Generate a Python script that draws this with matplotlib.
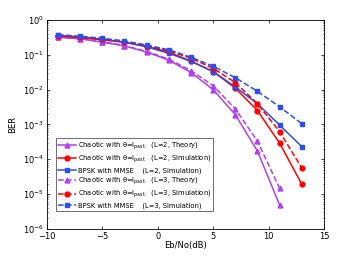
import matplotlib
matplotlib.use("Agg")
import matplotlib.pyplot as plt

snr = [-9, -7, -5, -3, -1, 1, 3, 5, 7, 9, 11, 13]

# L=2
chaos_theory_l2 = [0.32, 0.29, 0.23, 0.18, 0.12, 0.07, 0.031, 0.010, 0.0019, 1.7e-4, 4.8e-6]
chaos_sim_l2 = [0.34, 0.31, 0.27, 0.23, 0.175, 0.12, 0.066, 0.033, 0.011, 0.0025, 2.9e-4, 1.9e-5]
bpsk_l2 = [0.36, 0.33, 0.28, 0.23, 0.17, 0.11, 0.065, 0.033, 0.012, 0.0039, 9.6e-4, 2.3e-4]

# L=3
chaos_theory_l3 = [0.32, 0.29, 0.24, 0.185, 0.125, 0.075, 0.035, 0.013, 0.0028, 3.3e-4, 1.45e-5]
chaos_sim_l3 = [0.35, 0.32, 0.28, 0.24, 0.185, 0.13, 0.08, 0.041, 0.016, 0.0039, 6.2e-4, 5.6e-5]
bpsk_l3 = [0.38, 0.34, 0.30, 0.25, 0.19, 0.14, 0.085, 0.047, 0.022, 0.0089, 0.0032, 0.00105]

purple = "#b040f0"
red = "#ff0000"
blue = "#2a4ff0"

plt.rcParams["font.family"] = "DejaVu Sans"
plt.rcParams["mathtext.default"] = "regular"

fig, ax = plt.subplots(figsize=(3.58, 2.60), dpi=100)
fig.subplots_adjust(left=0.131, right=0.905, top=0.923, bottom=0.12)

lab_c = "Chaotic with θ=I$_{past}$"
lab_b = "BPSK with MMSE"
ms = 3.5
ax.plot(snr[:11], chaos_theory_l2, "-^", color=purple, ms=ms, lw=1.1,
        label=lab_c + "   (L=2, Theory)")
ax.plot(snr, chaos_sim_l2, "-o", color=red, ms=ms, lw=1.1,
        label=lab_c + "   (L=2, Simulation)")
ax.plot(snr, bpsk_l2, "-s", color=blue, ms=ms, lw=1.1,
        label=lab_b + "    (L=2, Simulation)")
ax.plot(snr[:11], chaos_theory_l3, "--^", color=purple, ms=ms, lw=1.1,
        label=lab_c + "   (L=3, Theory)")
ax.plot(snr, chaos_sim_l3, "--o", color=red, ms=ms, lw=1.1,
        label=lab_c + "   (L=3, Simulation)")
ax.plot(snr, bpsk_l3, "--s", color=blue, ms=ms, lw=1.1,
        label=lab_b + "    (L=3, Simulation)")

ax.set_yscale("log")
ax.set_xlim(-10, 15)
ax.set_ylim(1e-6, 1)
ax.set_xticks([-10, -5, 0, 5, 10, 15])
ax.set_xlabel("Eb/No(dB)", fontsize=6, labelpad=0)
ax.set_ylabel("BER", fontsize=6, labelpad=4)
ax.tick_params(labelsize=6, direction="in", length=2, width=0.5, which="both",
               top=True, right=True, pad=2)
ax.tick_params(which="minor", length=1)
for s in ax.spines.values():
    s.set_linewidth(0.6)

leg = ax.legend(loc="lower left", bbox_to_anchor=(0.033, 0.085), fontsize=4.9,
                frameon=True, fancybox=False, edgecolor="black", borderpad=0.3,
                labelspacing=0.3, handlelength=2.6, handletextpad=0.3,
                borderaxespad=0)
leg.get_frame().set_linewidth(0.5)

fig.savefig("out.png", dpi=100)
